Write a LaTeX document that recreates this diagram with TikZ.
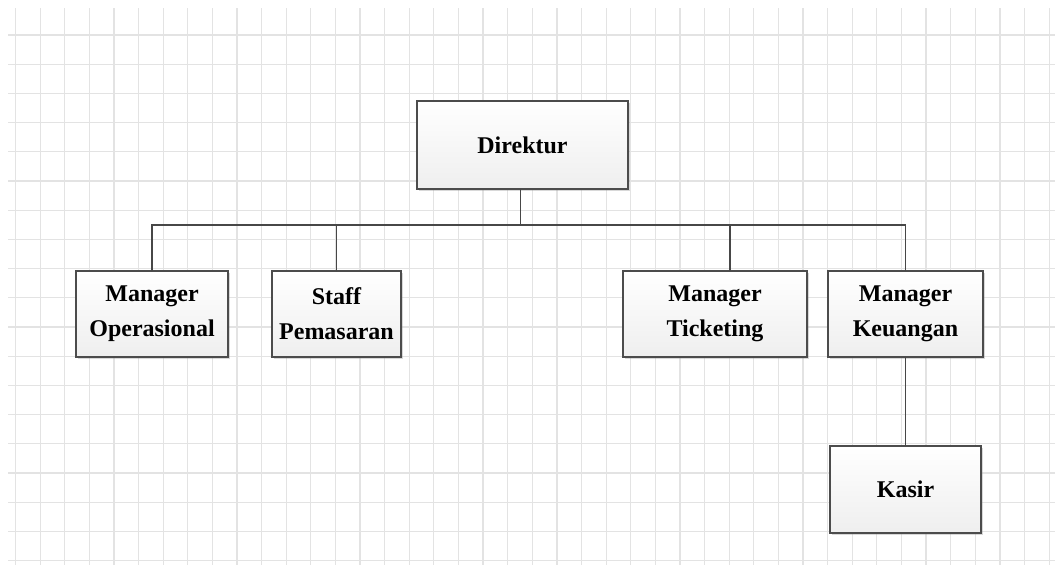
\documentclass[tikz,border=0pt]{standalone}
\usepackage{fontspec}
\setmainfont{Liberation Serif}
\usetikzlibrary{positioning,shadows,calc}

\begin{document}
\begin{tikzpicture}[
    x = 1pt, y = -1pt, % pixel units, y down
    grid line/.style = {draw = gray!22, line width = 1.2pt},
    link/.style = {draw = black!72, line width = 1.1pt},
    node distance = 44pt
    ]

    \tikzset{post/.style = {
        draw = black!70,
        line width = 1.4pt,
        outer sep = 0pt,
        shading = axis,
        top color = white,
        bottom color = gray!13,
        drop shadow = {shadow xshift = 1.5pt, shadow yshift = -1.5pt, opacity = 0.3},
        inner sep = 0pt,
        minimum height = 86pt,
        align = center,
        text = black,
        font = \bfseries\fontsize{24}{35}\selectfont
    }}

    \useasboundingbox (0,0) rectangle (1055,565);
    \fill[white] (0,0) rectangle (1055,565);

    % background grid
    \foreach \k in {0,...,42}
        \draw[grid line] (15.5+\k*24.61,8) -- (15.5+\k*24.61,565);
    \foreach \k in {0,...,18}
        \draw[grid line] (8,35+\k*29.2) -- (1055,35+\k*29.2);

    \node[post, minimum width = 211pt, minimum height = 88pt] (dir) at (522.5,145) {Direktur};
    \node[post, minimum width = 152pt] (op) at (152,314) {Manager\\Operasional};
    \node[post, minimum width = 129pt] (sp) [right=44pt of op] {Staff\\Pemasaran};
    \node[post, minimum width = 184pt] (tk) [right=222pt of sp] {Manager\\Ticketing};
    \node[post, minimum width = 155pt] (ku) [right=21pt of tk] {Manager\\Keuangan};
    \node[post, minimum width = 151pt, minimum height = 87pt] (ks) [below=89pt of ku] {Kasir};

    \coordinate (bus) at (520,225);

    \draw[link] (op.north) |- (ku.north |- bus) -- (ku.north);
    \draw[link] ([xshift=-2pt]dir.south) -- ([xshift=-2pt]dir.south |- bus);
    \draw[link] (sp.north) -- (sp.north |- bus);
    \draw[link, line width = 1.7pt] ([xshift=15pt]tk.north) -- ([xshift=15pt]tk.north |- bus);
    \draw[link] (ku.south) -- (ks.north);
\end{tikzpicture}
\end{document}
